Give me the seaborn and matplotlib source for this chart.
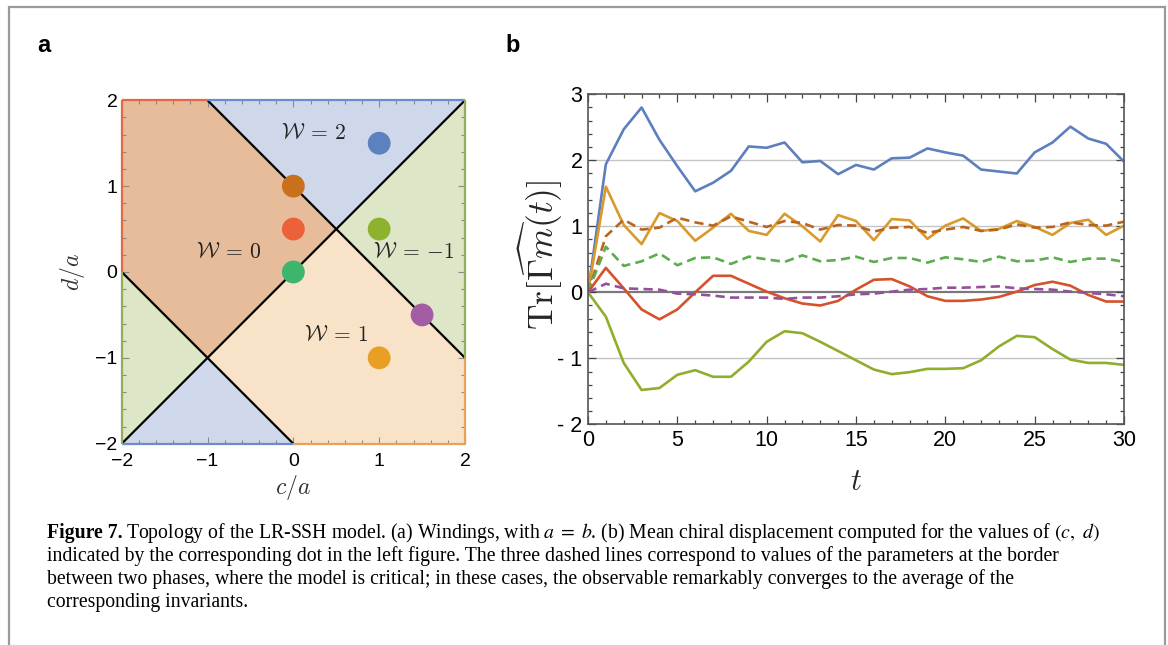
import numpy as np
import pandas as pd
import matplotlib
matplotlib.use("Agg")
import matplotlib.pyplot as plt
import seaborn as sns
from matplotlib.colors import ListedColormap
from matplotlib.patches import Rectangle
from matplotlib.ticker import MultipleLocator
from matplotlib.collections import LineCollection

# ---------------- data ----------------
# phase boundaries d = slope * c + intercept
boundary_slopes = [1, -1, -1]
boundary_intercepts = [0, 1, -2]
# winding number for each sign pattern (above line1, above line2, above line3)
phase_table = {(1, 1, 1): 2, (1, 0, 1): 0, (0, 1, 1): -1, (0, 0, 1): 1,
               (1, 0, 0): -1, (0, 0, 0): 2, (1, 1, 0): 2, (0, 1, 0): 2}
winding_values = [-1, 0, 1, 2]
winding_fill = ["#dde6c6", "#e6bc9a", "#f8e3c8", "#cfd8ea"]
winding_edge = ["#93ad5a", "#e06a48", "#e8a25a", "#6b8cc8"]

label_text = [r"$\mathcal{W}\:=\:2$", r"$\mathcal{W}\:=\:0$", r"$\mathcal{W}\:=\:{-}1$", r"$\mathcal{W}\:=\:1$"]
label_c = [0.24, -0.75, 1.40, 0.50]
label_d = [1.62, 0.23, 0.23, -0.74]

dot_c = [1.0, 0.0, 0.0, 0.0, 1.0, 1.5, 1.0]
dot_d = [1.5, 1.0, 0.5, 0.0, 0.5, -0.5, -1.0]
dot_colors = ["#5b82bf", "#c8701c", "#ec6139", "#3db56b", "#8db22e", "#a35ea3", "#e99f24"]

t = list(range(31))
s_blue = [0, 1.94, 2.47, 2.80, 2.31, 1.91, 1.53, 1.66, 1.84, 2.21, 2.19, 2.27, 1.97, 1.99, 1.79, 1.93,
          1.86, 2.03, 2.04, 2.18, 2.12, 2.07, 1.86, 1.83, 1.80, 2.12, 2.27, 2.51, 2.33, 2.25, 1.98]
s_gold = [0, 1.60, 1.02, 0.73, 1.20, 1.08, 0.78, 0.98, 1.19, 0.93, 0.87, 1.19, 1.00, 0.77, 1.17, 1.08,
          0.79, 1.11, 1.09, 0.81, 1.01, 1.12, 0.93, 0.96, 1.08, 0.99, 0.87, 1.05, 1.10, 0.87, 1.01]
s_brown = [0, 0.85, 1.10, 0.95, 0.98, 1.13, 1.06, 1.01, 1.15, 1.07, 0.99, 1.08, 1.05, 0.95, 1.02, 1.01,
           0.92, 0.98, 0.99, 0.90, 0.95, 0.99, 0.93, 0.95, 1.03, 0.98, 0.99, 1.06, 1.02, 1.01, 1.07]
s_green = [0, 0.69, 0.40, 0.47, 0.59, 0.41, 0.52, 0.53, 0.43, 0.54, 0.50, 0.46, 0.56, 0.47, 0.49, 0.54,
           0.46, 0.52, 0.52, 0.45, 0.53, 0.50, 0.46, 0.54, 0.47, 0.48, 0.53, 0.46, 0.51, 0.51, 0.46]
s_red = [0, 0.37, 0.06, -0.26, -0.41, -0.26, 0.0, 0.25, 0.25, 0.13, 0.01, -0.09, -0.17, -0.20, -0.13, 0.04,
         0.19, 0.20, 0.09, -0.06, -0.13, -0.13, -0.11, -0.07, 0.01, 0.11, 0.16, 0.10, -0.04, -0.14, -0.14]
s_purple = [0, 0.13, 0.06, 0.05, 0.04, -0.02, -0.03, -0.05, -0.08, -0.08, -0.08, -0.10, -0.08, -0.08, -0.06, -0.03,
            -0.02, 0.01, 0.04, 0.05, 0.07, 0.07, 0.08, 0.09, 0.06, 0.05, 0.04, 0.01, -0.01, -0.03, -0.06]
s_lime = [0, -0.37, -1.07, -1.48, -1.45, -1.25, -1.18, -1.28, -1.28, -1.05, -0.75, -0.59, -0.62, -0.75, -0.89, -1.03,
          -1.17, -1.24, -1.21, -1.16, -1.16, -1.15, -1.03, -0.82, -0.66, -0.68, -0.86, -1.02, -1.07, -1.07, -1.10]

series = [s_blue, s_gold, s_brown, s_green, s_red, s_purple, s_lime]
series_colors = ["#5e7fbd", "#d99a2b", "#b9651f", "#5cad4e", "#d4522c", "#94509a", "#8fae2c"]
series_dashed = [False, False, True, True, False, True, False]

x_ticks_right = [0, 5, 10, 15, 20, 25, 30]
y_ticks_right = [-2, -1, 0, 1, 2, 3]
ticks_left = [-2, -1, 0, 1, 2]

caption_lines = [
    r"Topology of the LR-SSH model. (a) Windings, with $a\;=\;b$. (b) Mean chiral displacement computed for the values of $(c,\ d)$",
    "indicated by the corresponding dot in the left figure. The three dashed lines correspond to values of the parameters at the border",
    "between two phases, where the model is critical; in these cases, the observable remarkably converges to the average of the",
    "corresponding invariants.",
]

# ---------------- style ----------------
sns.set_theme(style="white")
plt.rcParams["font.family"] = ["Liberation Sans", "DejaVu Sans"]
plt.rcParams["mathtext.fontset"] = "cm"
plt.rcParams["axes.unicode_minus"] = True

W, H = 1168, 645
fig = plt.figure(figsize=(W / 100, H / 100), dpi=100)
fig.patch.set_facecolor("white")

def fx(px):
    return px / W

def fy(py):
    return 1 - py / H

# figure frame
fig.patches.append(Rectangle((fx(9), -0.02), fx(1165) - fx(9), fy(7) + 0.02, transform=fig.transFigure,
                             fill=False, edgecolor="#9a9a9a", lw=1.6, zorder=0))

# ---------------- left panel ----------------
axL = fig.add_axes([fx(121.7), fy(443.7), fx(343.3), 343.4 / H])
n = 1400
cc = np.linspace(-2, 2, n)
dd = np.linspace(-2, 2, n)
C, D = np.meshgrid(cc, dd)

def winding(c, d):
    s = [(d > m * c + b).astype(int) for m, b in zip(boundary_slopes, boundary_intercepts)]
    out = np.zeros_like(c, dtype=float)
    for key, val in phase_table.items():
        mask = (s[0] == key[0]) & (s[1] == key[1]) & (s[2] == key[2])
        out[mask] = val
    return out

Wgrid = winding(C, D)
cmap = ListedColormap(winding_fill)
axL.imshow(Wgrid, origin="lower", extent=(-2, 2, -2, 2), cmap=cmap, vmin=-1.5, vmax=2.5,
           interpolation="nearest", aspect="auto", zorder=0)
for m, b in zip(boundary_slopes, boundary_intercepts):
    axL.axline((0, b), slope=m, color="black", lw=1.6, zorder=2)

# coloured frame edges following the region colours
edge_pts = np.linspace(-2, 2, 801)
edges = [(edge_pts, np.full_like(edge_pts, 2.0)), (edge_pts, np.full_like(edge_pts, -2.0)),
         (np.full_like(edge_pts, -2.0), edge_pts), (np.full_like(edge_pts, 2.0), edge_pts)]
for ex, ey in edges:
    pts = np.column_stack([ex, ey])
    segs = np.stack([pts[:-1], pts[1:]], axis=1)
    mid = (pts[:-1] + pts[1:]) / 2
    shrink = 0.999
    wv = winding(mid[:, 0] * shrink, mid[:, 1] * shrink)
    cols = [winding_edge[winding_values.index(int(v))] for v in wv]
    lc = LineCollection(segs, colors=cols, lw=1.6, clip_on=False, zorder=3)
    axL.add_collection(lc)

for txt, c0, d0 in zip(label_text, label_c, label_d):
    axL.text(c0, d0, txt, fontsize=15.5, ha="center", va="center", zorder=4, color="#222222")

dots = pd.DataFrame({"c": dot_c, "d": dot_d, "k": list(range(len(dot_c)))})
sns.scatterplot(data=dots, x="c", y="d", hue="k", palette=dot_colors, s=270, edgecolor="none",
                legend=False, ax=axL, zorder=5)

axL.set_xlim(-2, 2)
axL.set_ylim(-2, 2)
axL.set_xticks(ticks_left)
axL.set_yticks(ticks_left)
axL.xaxis.set_minor_locator(MultipleLocator(0.2))
axL.yaxis.set_minor_locator(MultipleLocator(0.2))
axL.tick_params(which="both", direction="in", top=True, right=True, bottom=True, left=True,
                color="#8a8a8a", width=0.8, labelsize=14, labelcolor="black", pad=3)
axL.tick_params(axis="x", which="both", pad=7)
axL.tick_params(which="major", length=5)
axL.tick_params(which="minor", length=3)
for sp in axL.spines.values():
    sp.set_visible(False)
axL.set_xlabel(r"$c/a$", fontsize=17, color="#333333", va="center")
axL.set_ylabel(r"$d/a$", fontsize=17, color="#333333", va="center")
axL.xaxis.set_label_coords(0.5, -0.129)
axL.yaxis.set_label_coords(-0.142, 0.5)

# ---------------- right panel ----------------
axR = fig.add_axes([fx(588), fy(424.3), fx(536), 330 / H])
for yg in [-1, 1, 2]:
    axR.axhline(yg, color="#c4c4c4", lw=1.0, zorder=0)
axR.axhline(0, color="#7a7a7a", lw=1.6, zorder=0.5)

for vals, col, dsh in zip(series, series_colors, series_dashed):
    sns.lineplot(x=t, y=vals, color=col, lw=1.9, ax=axR, zorder=2,
                 linestyle=(0, (3.5, 2.0)) if dsh else "-")

axR.set_xlim(0, 30)
axR.set_ylim(-2, 3)
axR.set_xticks(x_ticks_right)
axR.set_yticks(y_ticks_right)
axR.set_yticklabels([" - 2" if v == -2 else ("- 1" if v == -1 else str(v)) for v in y_ticks_right])
axR.xaxis.set_minor_locator(MultipleLocator(1))
axR.yaxis.set_minor_locator(MultipleLocator(0.2))
axR.tick_params(which="both", direction="in", top=True, right=True, bottom=True, left=True,
                color="#444444", width=0.9, labelsize=15.5, labelcolor="black", pad=4)
axR.tick_params(which="major", length=5.5)
axR.tick_params(which="minor", length=3)
for sp in axR.spines.values():
    sp.set_color("#555555")
    sp.set_linewidth(1.2)
axR.set_xlabel(r"$t$", fontsize=22, va="center")
axR.set_ylabel(r"$\mathrm{Tr}[\widehat{\Gamma m}(t)]$", fontsize=25.5, va="center")
axR.xaxis.set_label_coords(0.5, -0.175)
axR.yaxis.set_label_coords(-0.088, 0.513)

# ---------------- panel letters ----------------
fig.text(fx(37), fy(52), "a", fontsize=17, fontweight="bold", ha="left", va="baseline", color="black")
fig.text(fx(505), fy(52), "b", fontsize=17, fontweight="bold", ha="left", va="baseline", color="black")

# ---------------- caption ----------------
cap_font = ["Liberation Serif", "DejaVu Serif"]
cap_size = 14.2
base_y = [538, 561, 584, 607]
fig.canvas.draw()
renderer = fig.canvas.get_renderer()
tb = fig.text(fx(47), fy(base_y[0]), "Figure 7.", fontsize=cap_size, fontweight="bold", family=cap_font,
              va="baseline", ha="left", color="black")
bb = tb.get_window_extent(renderer)
fig.text((bb.x1 + 3) / W, fy(base_y[0]), caption_lines[0], fontsize=cap_size, family=cap_font,
         math_fontfamily="stix", va="baseline", ha="left", color="black")
for line, yb in zip(caption_lines[1:], base_y[1:]):
    fig.text(fx(47), fy(yb), line, fontsize=cap_size, family=cap_font, va="baseline", ha="left", color="black")

fig.savefig("out.png", dpi=100, facecolor="white")
